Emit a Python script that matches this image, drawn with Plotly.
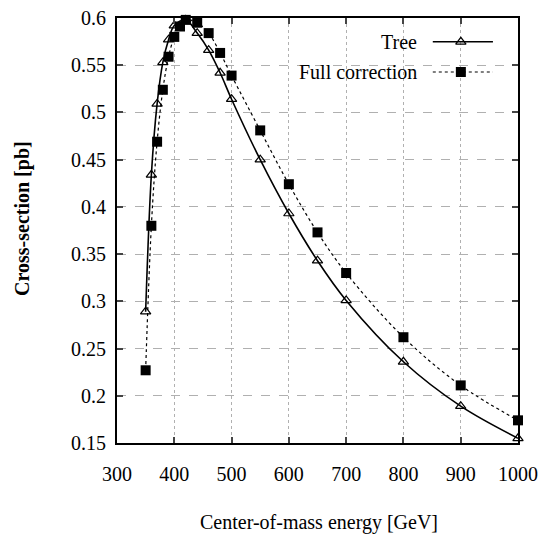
import plotly.graph_objects as go

tree_x = [350, 360, 370, 380, 390, 400, 420, 440, 460, 480, 500, 550, 600, 650, 700, 800, 900, 1000]
tree_y = [0.289, 0.434, 0.509, 0.553, 0.577, 0.592, 0.598, 0.584, 0.566, 0.542, 0.514, 0.450, 0.393, 0.343, 0.301, 0.236, 0.189, 0.155]

full_x = [350, 360, 370, 380, 390, 400, 410, 420, 440, 460, 480, 500, 550, 600, 650, 700, 800, 900, 1000]
full_y = [0.227, 0.380, 0.469, 0.524, 0.559, 0.580, 0.591, 0.598, 0.595, 0.584, 0.563, 0.539, 0.481, 0.424, 0.373, 0.330, 0.262, 0.211, 0.174]

x_ticks = [300, 400, 500, 600, 700, 800, 900, 1000]
y_ticks = [0.15, 0.2, 0.25, 0.3, 0.35, 0.4, 0.45, 0.5, 0.55, 0.6]
y_tick_text = ["0.15", "0.2", "0.25", "0.3", "0.35", "0.4", "0.45", "0.5", "0.55", "0.6"]

legend_names = ["Tree", "Full correction"]
x_title = "Center-of-mass energy [GeV]"
y_title = "Cross-section [pb]"

FONT = "Liberation Serif"

fig = go.Figure()
fig.add_trace(go.Scatter(
    x=tree_x, y=tree_y, mode="lines+markers", name=legend_names[0],
    line=dict(color="black", width=1.6, shape="spline"),
    marker=dict(symbol="triangle-up-open", size=9, color="black", line=dict(width=1.2)),
    showlegend=False, cliponaxis=False))
fig.add_trace(go.Scatter(
    x=full_x, y=full_y, mode="lines+markers", name=legend_names[1],
    line=dict(color="black", width=1.2, dash="dot", shape="spline"),
    marker=dict(symbol="square", size=10, color="black"),
    showlegend=False, cliponaxis=False))

# legend samples on an overlay axis in [0,1]
leg_y = [0.944, 0.873]
fig.add_trace(go.Scatter(x=[0.7875, 0.9375], y=[leg_y[0]] * 2, xaxis="x2", yaxis="y2",
                         mode="lines", line=dict(color="black", width=1.6), showlegend=False, hoverinfo="skip"))
fig.add_trace(go.Scatter(x=[0.8575], y=[leg_y[0]], xaxis="x2", yaxis="y2", mode="markers",
                         marker=dict(symbol="triangle-up-open", size=9, color="black", line=dict(width=1.2)),
                         showlegend=False, hoverinfo="skip"))
fig.add_trace(go.Scatter(x=[0.7875, 0.9375], y=[leg_y[1]] * 2, xaxis="x2", yaxis="y2",
                         mode="lines", line=dict(color="black", width=1.2, dash="dot"), showlegend=False, hoverinfo="skip"))
fig.add_trace(go.Scatter(x=[0.8575], y=[leg_y[1]], xaxis="x2", yaxis="y2", mode="markers",
                         marker=dict(symbol="square", size=10, color="black"),
                         showlegend=False, hoverinfo="skip"))

for name, yy in zip(legend_names, leg_y):
    fig.add_annotation(x=0.7525, y=yy, xref="paper", yref="paper", text=name, showarrow=False,
                       xanchor="right", yanchor="middle", font=dict(family=FONT, size=20, color="black"))

fig.add_annotation(x=0.5025, y=-0.188, xref="paper", yref="paper", text=x_title, showarrow=False,
                   xanchor="center", yanchor="middle", font=dict(family=FONT, size=20, color="black"))
fig.add_annotation(x=-0.2375, y=0.529, xref="paper", yref="paper", text="<b>" + y_title + "</b>",
                   showarrow=False, textangle=-90,
                   xanchor="center", yanchor="middle", font=dict(family=FONT, size=20, color="black"))

fig.update_layout(
    width=538, height=535,
    margin=dict(l=117, r=20, t=18, b=92, autoexpand=False),
    paper_bgcolor="white", plot_bgcolor="white",
    font=dict(family=FONT, size=20, color="black"),
    xaxis=dict(range=[300, 1000], tickvals=x_ticks, ticks="inside", ticklen=6, tickwidth=1.5,
               showline=True, linecolor="black", linewidth=2, mirror="ticks",
               showgrid=True, gridcolor="#b0b0b0", griddash="dot", gridwidth=1.2,
               zeroline=False, ticklabelstandoff=12, automargin=False,
               tickfont=dict(family=FONT, size=20)),
    yaxis=dict(range=[0.15, 0.6], tickvals=y_ticks, ticktext=y_tick_text,
               ticks="inside", ticklen=6, tickwidth=1.5,
               showline=True, linecolor="black", linewidth=2, mirror="ticks",
               showgrid=True, gridcolor="#b0b0b0", griddash="dash", gridwidth=1.2,
               zeroline=False, ticklabelstandoff=5, automargin=False,
               tickfont=dict(family=FONT, size=20)),
    xaxis2=dict(range=[0, 1], overlaying="x", visible=False, fixedrange=True),
    yaxis2=dict(range=[0, 1], overlaying="y", visible=False, fixedrange=True),
)

fig.write_html("out.html")
